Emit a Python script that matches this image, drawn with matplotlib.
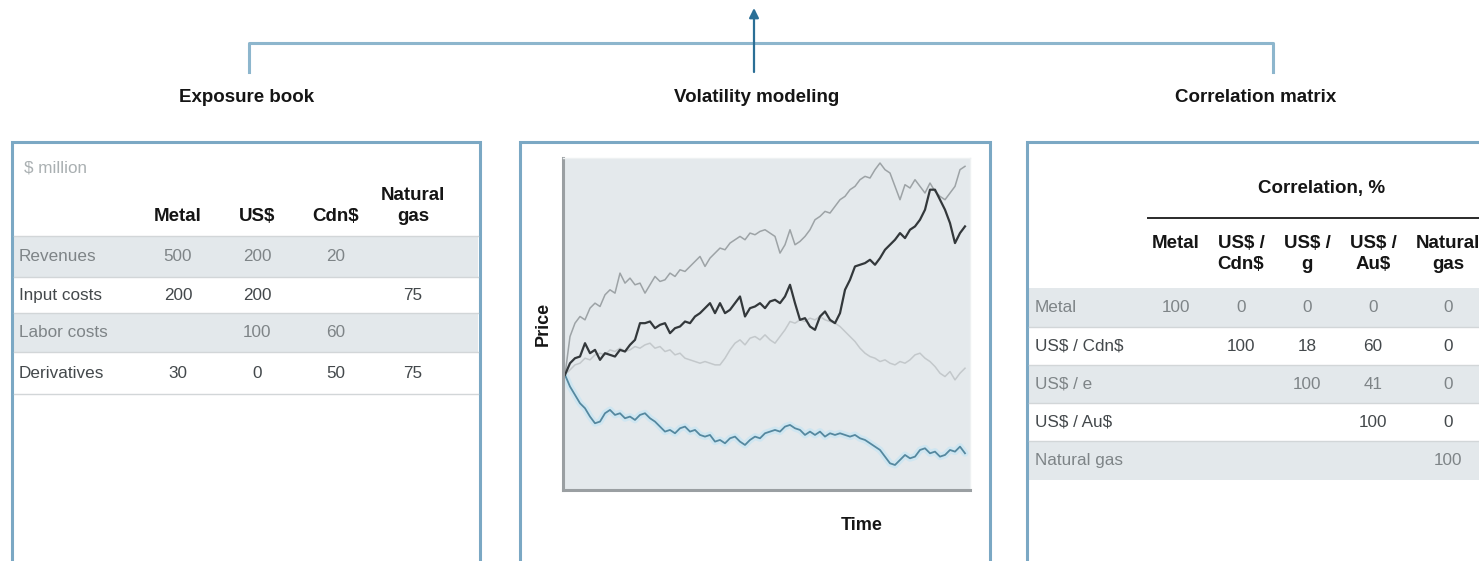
import numpy as np
import matplotlib
matplotlib.use("Agg")
import matplotlib.pyplot as plt
from matplotlib.patches import Rectangle

plt.rcParams['font.family'] = ['Liberation Sans', 'DejaVu Sans']

# ---- data ----
panel_titles = ["Exposure book", "Volatility modeling", "Correlation matrix"]

exposure_unit = "$ million"
exposure_cols = ["Metal", "US$", "Cdn$", "Natural\ngas"]
exposure_rows = ["Revenues", "Input costs", "Labor costs", "Derivatives"]
exposure_vals = [
    [500, 200, 20, None],
    [200, 200, None, 75],
    [None, 100, 60, None],
    [30, 0, 50, 75],
]

corr_title = "Correlation, %"
corr_cols = ["Metal", "US$ /\nCdn$", "US$ /\ng", "US$ /\nAu$", "Natural\ngas"]
corr_rows = ["Metal", "US$ / Cdn$", "US$ / e", "US$ / Au$", "Natural gas"]
corr_vals = [
    [100, 0, 0, 0, 0],
    [None, 100, 18, 60, 0],
    [None, None, 100, 41, 0],
    [None, None, None, 100, 0],
    [None, None, None, None, 100],
]

# simulated price paths, one value every 1.5 time steps
path_high = [34.5, 46, 50, 52, 51, 54.5, 56, 55, 58.5, 60, 59, 65, 62, 63.5, 61.5, 62,
             59, 61.5, 64, 62.5, 63, 65, 64, 66, 65.5, 67, 68.5, 70, 67, 69.5, 71, 72.5,
             72, 74, 75, 76, 75, 77, 76.5, 77.5, 78, 77, 76, 71, 73.5, 78, 73.5, 74.5,
             76, 78, 81, 82, 83.5, 83, 85, 87, 88, 90, 91, 93, 94, 93.5, 96, 98, 96, 95,
             91, 87, 91.5, 90.5, 93, 91, 89, 92, 89.5, 88, 87, 89, 91, 96, 97]
path_dark = [34.5, 38, 39.5, 40, 44, 41, 42, 39, 41, 40.5, 40, 42, 41.5, 43.5, 45, 50,
             50, 50.5, 48.5, 49.5, 50, 47, 48.5, 49, 50.5, 50, 52, 53, 54.5, 56, 53, 56,
             53, 54, 56, 58, 52, 54.5, 55, 56, 54.5, 56.5, 57, 56, 58, 61.5, 56, 51,
             51.5, 49, 48, 52, 53.5, 51, 50, 53, 60, 63, 67, 67.5, 68, 69, 67.5, 69.5,
             72, 73.5, 75, 77, 75.5, 78, 79, 81, 84, 90, 90, 87, 84, 80, 74, 77, 79]
path_light = [34.5, 36, 37.5, 38, 39.5, 39, 40.5, 41, 40.5, 42, 41.5, 42.5, 41.5, 42,
              43, 42.5, 43.5, 44, 42.5, 43, 41.5, 42, 40.5, 41, 39.5, 39, 38.5, 38, 38.5,
              38, 37.5, 37.5, 39.5, 42, 44, 45, 43.5, 45.5, 46, 45, 46.5, 45, 44, 46, 48,
              50.5, 50, 51, 50.5, 51.5, 51, 52, 51, 50.5, 50, 49, 47.5, 46, 44.5, 42.5,
              41, 40, 39.5, 38.5, 39, 38, 37.5, 38.5, 38, 39, 40.5, 41, 39.5, 38.5, 37,
              35, 34, 35.5, 33, 35, 36.5]
path_blue = [34.5, 31, 28.5, 26, 24.5, 22, 20, 20.5, 23, 24, 22.5, 23, 21.5, 22, 21,
             22.5, 23, 21.5, 20.5, 19, 17.5, 18, 17, 18.5, 19, 17.5, 18, 16.5, 16, 16.5,
             14.5, 15, 14, 15.5, 16, 14.5, 13.5, 15, 16, 15.5, 17, 17.5, 18, 17.5, 19,
             19.5, 18.5, 18, 16.5, 17.5, 16.5, 17.5, 16, 17, 16.5, 17, 16.5, 16, 16.5,
             15.5, 15, 14, 13, 12, 10, 8, 7.5, 9, 10.5, 9.5, 10, 12, 12.5, 11, 11.5, 10,
             10.5, 12, 11.5, 13, 11]
time_step = 1.5

# ---- styling ----
W, H = 1479, 561
frame_col = "#7ba8c4"
link_col = "#8db6cd"
arrow_col = "#2b6f96"
band_col = "#e3e8eb"
rule_col = "#d2d6d8"
head_col = "#151515"
txt_dark = "#43484b"
txt_light = "#7e8487"
fs_title = 13.5
fs_head = 13.5
fs_body = 12.3

fig = plt.figure(figsize=(W / 100, H / 100), dpi=100)
ax = fig.add_axes([0, 0, 1, 1])
ax.set_xlim(0, W)
ax.set_ylim(H, 0)
ax.axis('off')


def label(x, y, s, **kw):
    # plain text, no mathtext for the dollar signs
    return ax.text(x, y, s, parse_math=False, **kw)


# connector bracket with arrow on top
ax.plot([249, 249, 1273, 1273], [72, 43, 43, 72], color=link_col, lw=2.2,
        solid_joinstyle='round')
ax.annotate("", xy=(754, 8), xytext=(754, 72),
            arrowprops=dict(arrowstyle="-|>", color=arrow_col, lw=1.6,
                            mutation_scale=14, shrinkA=0, shrinkB=0))

title_x = [247, 757, 1256]
for tx, tt in zip(title_x, panel_titles):
    label(tx, 97, tt, ha='center', va='center', fontsize=fs_title, fontweight='bold',
          color=head_col)

# panel frames (bottom runs off the page, right panel too)
for x0, x1 in [(12, 480), (520, 990), (1027, 1500)]:
    ax.plot([x0, x0, x1, x1], [580, 142, 142, 580], color=frame_col, lw=2.2,
            solid_joinstyle='miter')

# ---- exposure book ----
label(24, 168, exposure_unit, ha='left', va='center', fontsize=fs_body, color="#aab0b2")
exp_x = [178, 257, 336, 413]
for cx, name in zip(exp_x, exposure_cols):
    label(cx, 224.5, name, ha='center', va='bottom', fontsize=fs_head,
          fontweight='bold', color=head_col, linespacing=1.3)
exp_edges = [236, 277, 313, 352, 394]
ax.plot([14, 478], [exp_edges[0], exp_edges[0]], color=rule_col, lw=1.0)
for i, (row, vals) in enumerate(zip(exposure_rows, exposure_vals)):
    top, bot = exp_edges[i], exp_edges[i + 1]
    shaded = i % 2 == 0
    if shaded:
        ax.add_patch(Rectangle((14, top), 464, bot - top, color=band_col, lw=0))
    ax.plot([14, 478], [bot, bot], color=rule_col, lw=1.0)
    c = txt_light if shaded else txt_dark
    yc = (top + bot) / 2
    label(19, yc, row, ha='left', va='center', fontsize=fs_body, color=c)
    for cx, v in zip(exp_x, vals):
        if v is not None:
            label(cx, yc, str(v), ha='center', va='center', fontsize=fs_body, color=c)

# ---- volatility modeling ----
px0, px1, py0, py1 = 563, 970, 158, 490
cax = fig.add_axes([px0 / W, 1 - py1 / H, (px1 - px0) / W, (py1 - py0) / H])
cax.set_facecolor("#e4e9ec")
paths = [
    (path_light, "#c3c8cb", 1.1, None),
    (path_high, "#9da3a6", 1.1, None),
    (path_blue, "#55889f", 1.3, "#cfe6f1"),
    (path_dark, "#33383b", 1.6, None),
]
for vals, col, lw, halo in paths:
    t = np.arange(len(vals)) * time_step
    if halo:
        cax.plot(t, vals, color=halo, lw=5, solid_capstyle='round')
    cax.plot(t, vals, color=col, lw=lw)
cax.set_xlim(-0.6, 121.5)
cax.set_ylim(0, 99.5)
cax.set_xticks([])
cax.set_yticks([])
for side in ['left', 'bottom']:
    cax.spines[side].set_color("#9a9fa2")
    cax.spines[side].set_linewidth(2.2)
for side in ['top', 'right']:
    cax.spines[side].set_color("#eef1f2")
    cax.spines[side].set_linewidth(1.0)
label(543, 324, "Price", ha='center', va='center', rotation=90, fontsize=13,
      fontweight='bold', color=head_col)
label(862, 525, "Time", ha='center', va='center', fontsize=13, fontweight='bold',
      color=head_col)

# ---- correlation matrix ----
label(1322, 188, corr_title, ha='center', va='center', fontsize=fs_head,
      fontweight='bold', color=head_col)
ax.plot([1148, 1479], [218, 218], color="#2a2a2a", lw=1.4)
cor_x = [1176, 1241, 1307, 1373, 1448]
for cx, name in zip(cor_x, corr_cols):
    label(cx, 235, name, ha='center', va='top', fontsize=fs_head, fontweight='bold',
          color=head_col, linespacing=1.3)
cor_edges = [288, 327, 365, 403, 441, 480]
for i, (row, vals) in enumerate(zip(corr_rows, corr_vals)):
    top, bot = cor_edges[i], cor_edges[i + 1]
    shaded = i % 2 == 0
    if shaded:
        ax.add_patch(Rectangle((1029, top), 460, bot - top, color=band_col, lw=0))
    if i < len(corr_rows) - 1:
        ax.plot([1029, 1479], [bot, bot], color=rule_col, lw=1.0)
    c = txt_light if shaded else txt_dark
    yc = (top + bot) / 2
    label(1035, yc, row, ha='left', va='center', fontsize=fs_body, color=c)
    for cx, v in zip(cor_x, vals):
        if v is not None:
            label(cx, yc, str(v), ha='center', va='center', fontsize=fs_body, color=c)

fig.savefig("out.png", dpi=100)
